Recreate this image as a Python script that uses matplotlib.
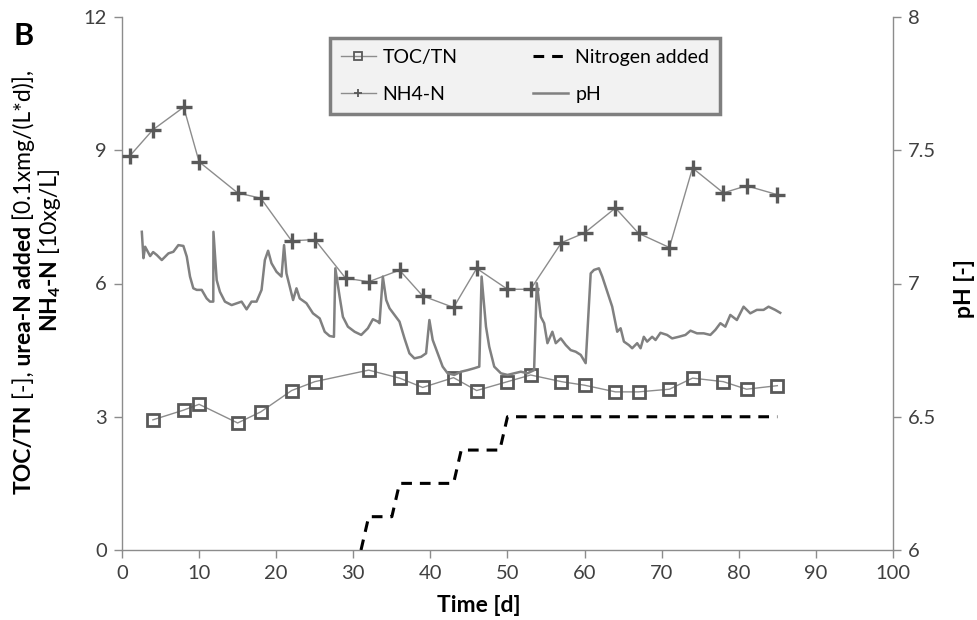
import matplotlib
matplotlib.use('Agg')
import matplotlib.pyplot as plt
from matplotlib.transforms import IdentityTransform
from matplotlib.ticker import FormatStrFormatter

plt.rcParams['font.family'] = ['Lato', 'DejaVu Sans']
plt.rcParams['mathtext.fontset'] = 'custom'
plt.rcParams['mathtext.rm'] = 'Lato'
plt.rcParams['mathtext.bf'] = 'Lato:bold'

# values
toc_day = [4, 8, 10, 15, 18, 22, 25, 32, 36, 39, 43, 46, 50, 53, 57, 60, 64, 67, 71, 74, 78, 81, 85]
toc_tn = [2.93, 3.15, 3.28, 2.86, 3.11, 3.59, 3.79, 4.05, 3.87, 3.66, 3.88, 3.59, 3.79, 3.94,
          3.79, 3.71, 3.56, 3.56, 3.62, 3.87, 3.79, 3.62, 3.70]

nh4_day = [1, 4, 8, 10, 15, 18, 22, 25, 29, 32, 36, 39, 43, 46, 50, 53, 57, 60, 64, 67, 71, 74, 78, 81, 85]
nh4_n = [8.87, 9.46, 9.97, 8.74, 8.04, 7.92, 6.96, 6.99, 6.12, 6.04, 6.30, 5.72, 5.46, 6.34, 5.87,
         5.87, 6.92, 7.14, 7.70, 7.13, 6.81, 8.60, 8.04, 8.20, 8.00]

nadd_day = [31, 32, 35, 36, 43, 44, 49, 50, 85]
nadd = [0, 0.75, 0.75, 1.5, 1.5, 2.25, 2.25, 3.0, 3.0]

ph_day = [2.57, 2.78, 3.00, 3.65, 4.04, 4.51, 5.16, 6.02, 6.66, 7.31, 7.96, 8.40, 8.82, 9.25, 9.69,
          10.34, 10.98, 11.41, 11.84, 11.86, 12.28, 12.70, 13.35, 14.22, 15.51, 16.16, 16.80, 17.45,
          18.10, 18.53, 18.95, 19.39, 20.04, 20.69, 21.02, 21.33, 21.76, 22.19, 22.63, 23.05, 23.92,
          24.77, 25.64, 26.29, 26.93, 27.49, 27.67, 28.23, 28.65, 29.30, 30.17, 31.03, 31.89, 32.54,
          33.18, 33.40, 33.83, 34.27, 34.70, 35.34, 35.99, 36.64, 37.28, 37.93, 38.80, 39.44, 39.87,
          40.30, 40.94, 41.59, 42.24, 43.10, 43.97, 44.83, 45.69, 46.34, 46.64, 47.21, 47.63, 48.28,
          49.15, 50.00, 50.87, 51.73, 52.59, 53.45, 53.80, 54.32, 54.75, 55.18, 55.82, 56.26, 56.91,
          57.56, 58.20, 58.85, 59.50, 60.14, 60.79, 61.22, 61.86, 62.29, 62.94, 63.58, 64.23, 64.67,
          65.10, 65.74, 66.17, 66.82, 67.26, 67.68, 68.11, 68.76, 69.20, 69.84, 70.70, 71.35, 72.21,
          73.08, 73.73, 74.58, 75.45, 76.31, 76.96, 77.61, 78.25, 78.90, 79.75, 80.62, 81.49, 82.34,
          83.21, 83.86, 84.72, 85.37]
ph = [7.194, 7.095, 7.138, 7.103, 7.118, 7.107, 7.088, 7.113, 7.119, 7.144, 7.141, 7.101, 7.026,
      6.982, 6.976, 6.976, 6.944, 6.932, 6.932, 7.194, 7.013, 6.969, 6.932, 6.919, 6.932, 6.903,
      6.932, 6.932, 6.976, 7.088, 7.123, 7.076, 7.044, 7.026, 7.144, 7.038, 6.988, 6.938, 6.982,
      6.944, 6.926, 6.888, 6.869, 6.819, 6.803, 6.800, 7.057, 6.950, 6.875, 6.838, 6.819, 6.807,
      6.832, 6.866, 6.857, 6.851, 7.026, 6.938, 6.907, 6.882, 6.857, 6.794, 6.738, 6.719, 6.725,
      6.738, 6.863, 6.788, 6.738, 6.688, 6.663, 6.657, 6.669, 6.675, 6.682, 6.688, 7.026, 6.838,
      6.763, 6.688, 6.663, 6.657, 6.663, 6.669, 6.663, 6.675, 7.001, 6.875, 6.851, 6.776, 6.819,
      6.776, 6.794, 6.769, 6.750, 6.744, 6.732, 6.701, 7.038, 7.051, 7.057, 7.026, 6.969, 6.913,
      6.819, 6.832, 6.782, 6.769, 6.757, 6.776, 6.757, 6.800, 6.782, 6.800, 6.788, 6.815, 6.807,
      6.794, 6.800, 6.807, 6.823, 6.813, 6.813, 6.807, 6.826, 6.851, 6.838, 6.882, 6.863, 6.913,
      6.888, 6.901, 6.901, 6.913, 6.901, 6.890]

x_ticks = list(range(0, 101, 10))
y_ticks = [0, 3, 6, 9, 12]
ph_ticks = [6, 6.5, 7, 7.5, 8]

W, H = 978, 620
fig = plt.figure(figsize=(W / 100, H / 100), dpi=100)
ax = fig.add_axes([122 / W, 1 - 550 / H, (893 - 122) / W, (550 - 17) / H])
ax2 = ax.twinx()

axis_grey = '#8c8c8c'
text_grey = '#404040'
fs = 14.5

toc_line, = ax.plot(toc_day, toc_tn, color='#8c8c8c', lw=1.0, marker='s', ms=8,
                    mfc='none', mec='#595959', mew=2.0, label='TOC/TN', zorder=3)
nh4_line, = ax.plot(nh4_day, nh4_n, color='#8c8c8c', lw=1.0, marker='+', ms=11,
                    mec='#595959', mew=2.4, label='NH4-N', zorder=3)
n_line, = ax.plot(nadd_day, nadd, color='black', lw=2.2, linestyle=(0, (3.5, 2.6)),
                  label='Nitrogen added', zorder=3)
ph_line, = ax2.plot(ph_day, ph, color='#808080', lw=1.8, label='pH', zorder=2)

ax.set_xlim(0, 100)
ax.set_ylim(0, 12)
ax2.set_ylim(6, 8)
ax.set_xticks(x_ticks)
ax.set_yticks(y_ticks)
ax2.set_yticks(ph_ticks)
ax2.yaxis.set_major_formatter(FormatStrFormatter('%g'))

for a in (ax, ax2):
    a.spines['top'].set_visible(False)
    for s in ('left', 'right', 'bottom'):
        a.spines[s].set_color(axis_grey)
        a.spines[s].set_linewidth(1.0)
    a.tick_params(direction='out', length=6, width=1, color=axis_grey,
                  labelcolor=text_grey, labelsize=fs, pad=5)
ax2.spines['left'].set_visible(False)
ax2.spines['bottom'].set_visible(False)
ax.spines['right'].set_visible(False)

fig.text(479 / W, 1 - 606 / H, 'Time [d]', fontsize=16.5, fontweight='bold', color='black',
         ha='center', va='center')
fig.text(965 / W, 1 - 289 / H, 'pH [-]', fontsize=16.5, fontweight='bold', color='black',
         ha='center', va='center', rotation=90)

fig.text(14 / W, 1 - 45 / H, 'B', fontsize=22, fontweight='bold', color='black')

leg = ax2.legend(handles=[toc_line, nh4_line, n_line, ph_line], ncol=2,
                 loc='upper left', bbox_to_anchor=((330 - 122) / 771, (550 - 38) / 533),
                 fontsize=14, frameon=True, fancybox=False, framealpha=1,
                 handlelength=1.8, handletextpad=0.35, columnspacing=3.9,
                 labelspacing=1.05, borderpad=0.55, borderaxespad=0)
leg.get_frame().set_facecolor('#f2f2f2')
leg.get_frame().set_edgecolor('#7f7f7f')
leg.get_frame().set_linewidth(2.5)
for t in leg.get_texts():
    t.set_color('black')
for lh in leg.legend_handles:
    lh.set_markersize(6)
    lh.set_markeredgewidth(1.3)


def rotated_label(pieces, x_px, yc_px, size):
    # stack text pieces bottom-to-top on one shared baseline
    renderer = fig.canvas.get_renderer()
    texts = []
    for s, w in pieces:
        t = fig.text(0, 0, s, rotation=90, rotation_mode='anchor', ha='left', va='baseline',
                     fontsize=size, fontweight=w, color='black', transform=IdentityTransform())
        texts.append(t)
    lens = [t.get_window_extent(renderer).height for t in texts]
    y = (H - yc_px) - sum(lens) / 2
    for t, L in zip(texts, lens):
        t.set_position((x_px, y))
        y += L


rotated_label([('TOC/TN', 'bold'), (' [-],', 'normal'), (' urea-N added', 'bold'),
               (' [0.1xmg/(L*d)],', 'normal')], 31, 282, 16.5)
rotated_label([(r'NH$_\mathbf{4}$-N', 'bold'), (' [10xg/L]', 'normal')], 57, 250, 16.5)

fig.savefig('out.png', dpi=100)
